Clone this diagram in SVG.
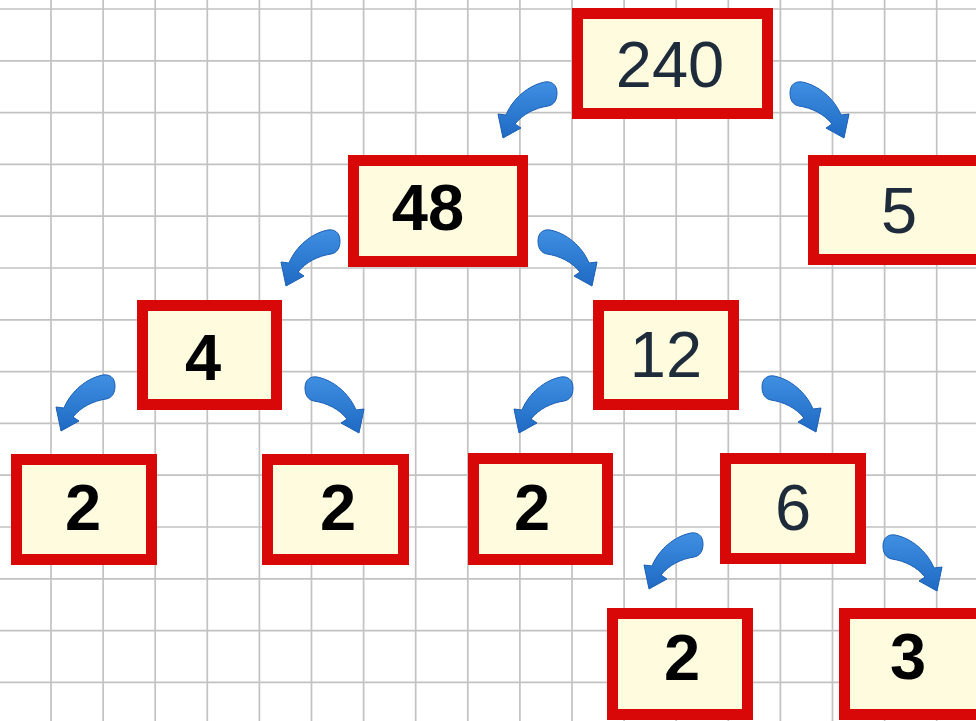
<svg xmlns="http://www.w3.org/2000/svg" width="976" height="721" viewBox="0 0 976 721">
<defs>
<style>
.grid line{stroke:#c2c2c2;stroke-width:1.7}
.box{fill:#fffbdf;stroke:#d80808;stroke-width:11}
.t{font-family:"Liberation Sans",Arial,sans-serif;font-size:65px;text-anchor:middle}
.r{fill:#1e2b3b;font-weight:normal}
.b{fill:#000;font-weight:bold}
.arr{fill:url(#ag);stroke:#1c5fb5;stroke-width:1}
</style>
<linearGradient id="ag" x1="0" y1="0" x2="0" y2="1">
<stop offset="0" stop-color="#3f8fe2"/>
<stop offset="1" stop-color="#1f6ac4"/>
</linearGradient>
<path id="arrow" d="M0,11 C0,2 6,-1 12,0 C28,3 44,16 51,33 L59,32 L54,56 L36,46 L42,42 C34,32 22,26 9,24 C3,23 0,18 0,11 Z"/>
</defs>
<rect width="976" height="721" fill="#ffffff"/>
<g class="grid">
<line x1="51" y1="0" x2="51" y2="721"/><line x1="103.1" y1="0" x2="103.1" y2="721"/><line x1="155.2" y1="0" x2="155.2" y2="721"/><line x1="207.3" y1="0" x2="207.3" y2="721"/><line x1="259.4" y1="0" x2="259.4" y2="721"/><line x1="311.5" y1="0" x2="311.5" y2="721"/><line x1="363.6" y1="0" x2="363.6" y2="721"/><line x1="415.7" y1="0" x2="415.7" y2="721"/><line x1="467.8" y1="0" x2="467.8" y2="721"/><line x1="519.9" y1="0" x2="519.9" y2="721"/><line x1="572" y1="0" x2="572" y2="721"/><line x1="624.1" y1="0" x2="624.1" y2="721"/><line x1="676.2" y1="0" x2="676.2" y2="721"/><line x1="728.3" y1="0" x2="728.3" y2="721"/><line x1="780.4" y1="0" x2="780.4" y2="721"/><line x1="832.5" y1="0" x2="832.5" y2="721"/><line x1="884.6" y1="0" x2="884.6" y2="721"/><line x1="936.7" y1="0" x2="936.7" y2="721"/>
<line x1="0" y1="9" x2="976" y2="9"/><line x1="0" y1="60.8" x2="976" y2="60.8"/><line x1="0" y1="112.6" x2="976" y2="112.6"/><line x1="0" y1="164.4" x2="976" y2="164.4"/><line x1="0" y1="216.2" x2="976" y2="216.2"/><line x1="0" y1="268" x2="976" y2="268"/><line x1="0" y1="319.8" x2="976" y2="319.8"/><line x1="0" y1="371.6" x2="976" y2="371.6"/><line x1="0" y1="423.4" x2="976" y2="423.4"/><line x1="0" y1="475.2" x2="976" y2="475.2"/><line x1="0" y1="527" x2="976" y2="527"/><line x1="0" y1="578.8" x2="976" y2="578.8"/><line x1="0" y1="630.6" x2="976" y2="630.6"/><line x1="0" y1="682.4" x2="976" y2="682.4"/>
</g>
<g id="connectors">
<use href="#arrow" class="arr" transform="translate(557,82) scale(-1,1)"/>
<use href="#arrow" class="arr" transform="translate(790,82)"/>
<use href="#arrow" class="arr" transform="translate(340,230) scale(-1,1)"/>
<use href="#arrow" class="arr" transform="translate(538,230)"/>
<use href="#arrow" class="arr" transform="translate(115,375) scale(-1,1)"/>
<use href="#arrow" class="arr" transform="translate(305,377)"/>
<use href="#arrow" class="arr" transform="translate(573,377) scale(-1,1)"/>
<use href="#arrow" class="arr" transform="translate(762,376)"/>
<use href="#arrow" class="arr" transform="translate(703,533) scale(-1,1)"/>
<use href="#arrow" class="arr" transform="translate(883,535)"/>
</g>
<g id="n240"><rect class="box" x="577.5" y="13.5" width="190" height="100"/><text class="t r" x="670" y="87">240</text></g>
<g id="n48"><rect class="box" x="353.5" y="160.5" width="169" height="101"/><text class="t b" x="428" y="230">48</text></g>
<g id="n5"><rect class="box" x="813.5" y="160.5" width="180" height="99"/><text class="t r" x="899" y="233">5</text></g>
<g id="n4"><rect class="box" x="142.5" y="305.5" width="134" height="99"/><text class="t b" x="203" y="380">4</text></g>
<g id="n12"><rect class="box" x="598.5" y="305.5" width="135" height="99"/><text class="t r" x="666" y="377">12</text></g>
<g id="n2a"><rect class="box" x="16.5" y="459.5" width="135" height="100"/><text class="t b" x="83" y="530">2</text></g>
<g id="n2b"><rect class="box" x="267.5" y="459.5" width="136" height="100"/><text class="t b" x="338" y="530">2</text></g>
<g id="n2c"><rect class="box" x="473.5" y="458.5" width="134" height="101"/><text class="t b" x="532" y="530">2</text></g>
<g id="n6"><rect class="box" x="725.5" y="458.5" width="135" height="100"/><text class="t r" x="793" y="530">6</text></g>
<g id="n2d"><rect class="box" x="612.5" y="613.5" width="135" height="101"/><text class="t b" x="682" y="680">2</text></g>
<g id="n3"><rect class="box" x="844.5" y="613.5" width="150" height="101"/><text class="t b" x="908" y="679">3</text></g>
</svg>
